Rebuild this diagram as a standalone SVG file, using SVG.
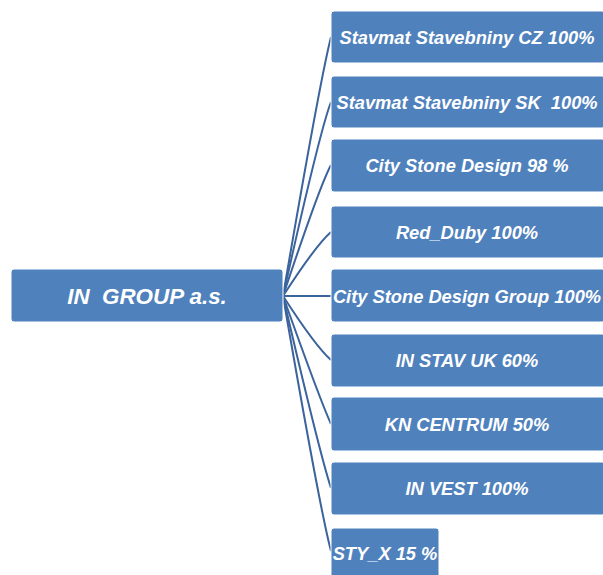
<svg xmlns="http://www.w3.org/2000/svg" width="603" height="575" viewBox="0 0 603 575">
<style>
.box{fill:#4f81bd;stroke:#ffffff;stroke-width:1}
.t{fill:#ffffff;font-family:"Liberation Sans",Arial,sans-serif;font-weight:bold;font-style:italic;font-size:18.3px;text-anchor:middle;dominant-baseline:central}
.m{font-size:22.4px}
.c{fill:none;stroke:#3b639c;stroke-width:2}
</style>
<rect width="603" height="575" fill="#ffffff"/>
<g id="connectors">
<path class="c" d="M283,296 Q320,80 331,37"/>
<path class="c" d="M283,296 Q320,130 331,102"/>
<path class="c" d="M283,296 Q320,185 331,165"/>
<path class="c" d="M283,296 Q316,245 331,232"/>
<path class="c" d="M283,296 L331,296"/>
<path class="c" d="M283,296 Q316,347 331,360"/>
<path class="c" d="M283,296 Q320,400 331,424"/>
<path class="c" d="M283,296 Q320,455 331,488"/>
<path class="c" d="M283,296 Q320,510 331,551"/>
</g>
<g id="node-main"><rect class="box" x="11" y="269" width="272" height="53" rx="3"/><text class="t m" x="147" y="296" xml:space="preserve">IN  GROUP a.s.</text></g>
<g id="node-1"><rect class="box" x="331" y="11" width="274" height="52" rx="3"/><text class="t" x="467" y="37">Stavmat Stavebniny CZ 100%</text></g>
<g id="node-2"><rect class="box" x="331" y="76" width="274" height="52" rx="3"/><text class="t" x="467" y="102" xml:space="preserve">Stavmat Stavebniny SK  100%</text></g>
<g id="node-3"><rect class="box" x="331" y="139" width="274" height="53" rx="3"/><text class="t" x="467" y="165">City Stone Design 98 %</text></g>
<g id="node-4"><rect class="box" x="331" y="206" width="274" height="52" rx="3"/><text class="t" x="467" y="232">Red_Duby 100%</text></g>
<g id="node-5"><rect class="box" x="331" y="269" width="274" height="53" rx="3"/><text class="t" x="467" y="296">City Stone Design Group 100%</text></g>
<g id="node-6"><rect class="box" x="331" y="334" width="274" height="53" rx="3"/><text class="t" x="467" y="360">IN STAV UK 60%</text></g>
<g id="node-7"><rect class="box" x="331" y="397" width="274" height="54" rx="3"/><text class="t" x="467" y="424">KN CENTRUM 50%</text></g>
<g id="node-8"><rect class="box" x="331" y="462" width="274" height="53" rx="3"/><text class="t" x="467" y="488">IN VEST 100%</text></g>
<g id="node-9"><rect class="box" x="331" y="528" width="108" height="60" rx="3"/><text class="t" x="385" y="553">STY_X 15 %</text></g>
</svg>
